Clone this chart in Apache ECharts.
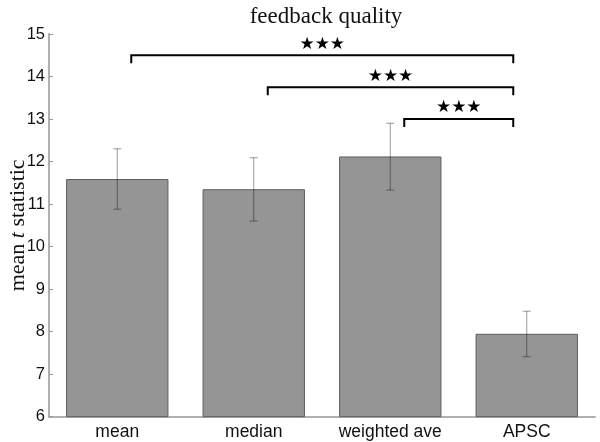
<!DOCTYPE html>
<html>
<head>
<meta charset="utf-8">
<script src="https://cdn.jsdelivr.net/npm/echarts@6/dist/echarts.min.js"></script>
<style>html,body{margin:0;padding:0;background:#fff}#c{width:600px;height:442px}</style>
</head>
<body>
<div id="c"></div>
<script>
const categories = ['mean', 'median', 'weighted ave', 'APSC'];
const means = [11.59, 11.35, 12.12, 7.95];
const errLow = [10.88, 10.60, 11.33, 7.41];
const errHigh = [12.30, 12.09, 12.90, 8.48];
const yTicks = [6, 7, 8, 9, 10, 11, 12, 13, 14, 15];
// significance brackets: [from category index, to category index, y level, label]
const bracketFrom = [0, 1, 2];
const bracketTo = [3, 3, 3];
const bracketLevel = [14.5, 13.75, 13.0];
const bracketLabel = ['★★★', '★★★', '★★★'];

const chart = echarts.init(document.getElementById('c'), null, {renderer: 'canvas'});
const errData = categories.map((c, i) => [i, errLow[i], errHigh[i]]);
const brData = bracketFrom.map((f, i) => [f, bracketTo[i], bracketLevel[i], bracketLabel[i]]);

chart.setOption({
  animation: false,
  backgroundColor: '#fff',
  title: {
    text: 'feedback quality',
    left: 321, top: 0, textAlign: 'center',
    textStyle: {fontFamily: 'Liberation Serif', fontWeight: 'normal', fontSize: 23, color: '#111'}
  },
  grid: {left: 49, right: 5, top: 34, bottom: 25.3, outerBoundsMode: 'none', containLabel: false},
  xAxis: {
    type: 'category', data: categories,
    axisLine: {lineStyle: {color: '#b0b0b0', width: 2}},
    axisTick: {show: false},
    axisLabel: {fontFamily: 'Liberation Sans', fontSize: 17.5, color: '#111', margin: 6}
  },
  yAxis: {
    type: 'value', min: yTicks[0], max: yTicks[yTicks.length - 1], interval: 1,
    name: '{a|mean }{b|t}{a| statistic}',
    nameLocation: 'middle', nameRotate: 90, nameGap: 31, nameMoveOverlap: false,
    nameTextStyle: {verticalAlign: 'middle', rich: {
      a: {fontFamily: 'Liberation Serif', fontSize: 22, color: '#111'},
      b: {fontFamily: 'Liberation Serif', fontSize: 22, fontStyle: 'italic', color: '#111'}
    }},
    axisLine: {show: true, lineStyle: {color: '#b0b0b0', width: 2}},
    axisTick: {show: true, inside: true, length: 4, lineStyle: {color: '#999'}},
    splitLine: {show: false},
    axisLabel: {fontFamily: 'Liberation Sans', fontSize: 16.5, color: '#111', margin: 4}
  },
  series: [
    {
      type: 'bar', data: means, barWidth: '75%',
      itemStyle: {color: '#959595', borderColor: '#5e5e5e', borderWidth: 1}
    },
    {
      type: 'custom', data: errData, z: 5,
      renderItem: function (params, api) {
        const x = api.value(0);
        const lo = api.coord([x, api.value(1)]);
        const hi = api.coord([x, api.value(2)]);
        const st = {stroke: 'rgba(0,0,0,0.4)', lineWidth: 1};
        return {type: 'group', children: [
          {type: 'line', shape: {x1: lo[0], y1: lo[1], x2: hi[0], y2: hi[1]}, style: st},
          {type: 'line', shape: {x1: lo[0] - 4, y1: lo[1], x2: lo[0] + 4, y2: lo[1]}, style: st},
          {type: 'line', shape: {x1: hi[0] - 4, y1: hi[1], x2: hi[0] + 4, y2: hi[1]}, style: st}
        ]};
      }
    },
    {
      type: 'custom', data: brData, z: 6,
      encode: {x: [0, 1], y: 2},
      renderItem: function (params, api) {
        const a = api.coord([api.value(0), api.value(2)]);
        const b = api.coord([api.value(1), api.value(2)]);
        const x1 = a[0] + 14, x2 = b[0] - 13.5, y = a[1];
        const st = {stroke: '#000', lineWidth: 2, fill: null};
        return {type: 'group', children: [
          {type: 'polyline', shape: {points: [[x1, y + 8], [x1, y], [x2, y], [x2, y + 8]]}, style: st},
          {type: 'text', style: {text: brData[params.dataIndex][3], x: (x1 + x2) / 2, y: y - 11,
            align: 'center', verticalAlign: 'middle', fontSize: 17, fontFamily: 'DejaVu Sans', fill: '#000'}}
        ]};
      }
    }
  ]
});
</script>
</body>
</html>
